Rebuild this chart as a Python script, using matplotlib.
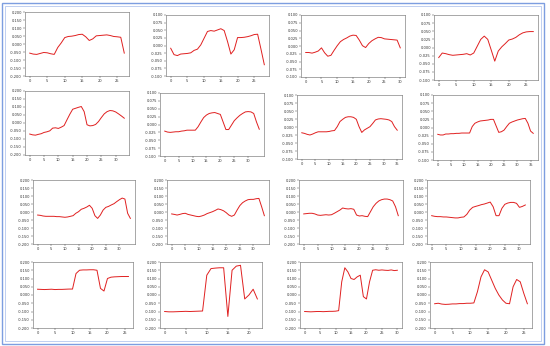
import matplotlib
matplotlib.use("Agg")
import matplotlib.pyplot as plt
from matplotlib.patches import Rectangle

# one series per small panel
s1 = [-0.057, -0.063, -0.065, -0.059, -0.053, -0.055, -0.061, -0.065, -0.022, 0.007, 0.040, 0.047, 0.049, 0.053,
      0.059, 0.061, 0.045, 0.022, 0.032, 0.051, 0.053, 0.055, 0.057, 0.053, 0.047, 0.045, 0.042, -0.057]
s2 = [-0.009, -0.030, -0.033, -0.028, -0.027, -0.026, -0.024, -0.016, -0.012, 0.002, 0.024, 0.046, 0.049, 0.047,
      0.051, 0.055, 0.049, 0.013, -0.028, -0.014, 0.026, 0.026, 0.027, 0.029, 0.032, 0.036, 0.037, -0.012, -0.063]
s3 = [-0.021, -0.021, -0.023, -0.020, -0.016, -0.006, -0.022, -0.033, -0.030, -0.014, 0.001, 0.014, 0.021, 0.026,
      0.032, 0.035, 0.034, 0.019, 0.001, -0.005, 0.008, 0.017, 0.023, 0.028, 0.027, 0.023, 0.022, 0.021, 0.020,
      0.019, -0.006]
s4 = [-0.031, -0.017, -0.019, -0.022, -0.024, -0.023, -0.022, -0.021, -0.019, -0.023, -0.017, 0.004, 0.025, 0.035,
      0.025, -0.008, -0.042, -0.011, 0.002, 0.012, 0.023, 0.026, 0.031, 0.039, 0.045, 0.048, 0.049, 0.049]
s5 = [-0.069, -0.074, -0.076, -0.071, -0.067, -0.059, -0.055, -0.049, -0.032, -0.030, -0.034, -0.026, -0.016, 0.020,
      0.055, 0.086, 0.092, 0.098, 0.103, 0.071, -0.011, -0.018, -0.016, -0.009, 0.009, 0.034, 0.057, 0.071, 0.078,
      0.076, 0.069, 0.057, 0.044, 0.030]
s6 = [-0.021, -0.024, -0.025, -0.024, -0.023, -0.023, -0.021, -0.020, -0.018, -0.018, -0.018, -0.018, -0.007, 0.008,
      0.022, 0.030, 0.035, 0.037, 0.038, 0.035, 0.032, 0.008, -0.016, -0.016, -0.002, 0.012, 0.021, 0.029, 0.035,
      0.040, 0.041, 0.040, 0.035, 0.008, -0.015]
s7 = [-0.018, -0.020, -0.023, -0.025, -0.022, -0.018, -0.015, -0.015, -0.015, -0.015, -0.014, -0.012, -0.011, 0.001,
      0.017, 0.024, 0.030, 0.032, 0.032, 0.030, 0.024, 0.001, -0.017, -0.009, -0.004, 0.001, 0.011, 0.022, 0.025,
      0.026, 0.025, 0.024, 0.022, 0.017, 0.001, -0.010]
s8 = [-0.021, -0.023, -0.023, -0.020, -0.020, -0.019, -0.019, -0.018, -0.018, -0.017, -0.017, -0.017, -0.017, 0.003,
      0.013, 0.017, 0.020, 0.021, 0.022, 0.023, 0.025, 0.025, 0.005, -0.015, -0.013, -0.008, 0.003, 0.013, 0.017,
      0.020, 0.023, 0.025, 0.027, 0.028, 0.013, -0.011, -0.018]
s9 = [-0.019, -0.021, -0.025, -0.027, -0.027, -0.027, -0.027, -0.029, -0.029, -0.031, -0.033, -0.031, -0.027, -0.023,
      -0.008, 0.002, 0.017, 0.023, 0.031, 0.042, 0.023, -0.023, -0.040, -0.019, 0.012, 0.029, 0.035, 0.044, 0.052,
      0.065, 0.077, 0.087, 0.081, -0.008, -0.040]
s10 = [-0.012, -0.015, -0.019, -0.015, -0.010, -0.008, -0.015, -0.019, -0.023, -0.027, -0.029, -0.025, -0.019, -0.010,
       -0.004, 0.002, 0.010, 0.019, 0.015, 0.008, -0.004, -0.019, -0.027, -0.019, 0.012, 0.040, 0.058, 0.069, 0.077,
       0.079, 0.079, 0.083, 0.085, 0.033, -0.023]
s11 = [-0.012, -0.010, -0.008, -0.008, -0.012, -0.019, -0.021, -0.019, -0.017, -0.019, -0.017, -0.008, 0.002, 0.012,
       0.025, 0.021, 0.019, 0.021, 0.017, -0.019, -0.025, -0.023, -0.027, -0.029, 0.002, 0.033, 0.054, 0.069, 0.077,
       0.081, 0.081, 0.077, 0.069, 0.033, -0.023]
s12 = [-0.023, -0.027, -0.029, -0.029, -0.031, -0.031, -0.033, -0.035, -0.037, -0.037, -0.033, -0.031, -0.015, 0.012,
       0.029, 0.035, 0.040, 0.046, 0.050, 0.056, 0.062, 0.033, -0.023, -0.023, 0.023, 0.048, 0.056, 0.060, 0.060,
       0.054, 0.029, 0.035, 0.044]
s13 = [0.035, 0.034, 0.033, 0.034, 0.035, 0.033, 0.034, 0.034, 0.035, 0.036, 0.036, 0.130, 0.150, 0.152,
       0.152, 0.153, 0.153, 0.150, 0.040, 0.024, 0.100, 0.108, 0.110, 0.111, 0.112, 0.112, 0.112]
s14 = [-0.100, -0.102, -0.102, -0.101, -0.100, -0.099, -0.100, -0.099, -0.098, -0.097, 0.120, 0.160, 0.163, 0.165,
       0.165, -0.130, 0.150, 0.175, 0.180, -0.024, 0.000, 0.035, -0.024]
s15 = [-0.100, -0.101, -0.102, -0.101, -0.100, -0.100, -0.101, -0.100, -0.099, -0.099, -0.098, -0.095, 0.080, 0.165,
       0.140, 0.100, 0.094, 0.110, 0.120, -0.010, -0.024, 0.080, 0.150, 0.153, 0.150, 0.152, 0.150, 0.149, 0.152,
       0.148, 0.150]
s16 = [-0.053, -0.050, -0.055, -0.057, -0.056, -0.054, -0.054, -0.052, -0.052, -0.050, -0.050, -0.048, 0.020, 0.110,
       0.153, 0.140, 0.090, 0.040, 0.000, -0.030, -0.050, -0.053, 0.050, 0.094, 0.080, 0.010, -0.053]

series = [s1, s2, s3, s4, s5, s6, s7, s8, s9, s10, s11, s12, s13, s14, s15, s16]
ylims = [0.2, 0.1, 0.1, 0.1, 0.2, 0.1, 0.1, 0.1, 0.2, 0.2, 0.2, 0.2, 0.2, 0.2, 0.2, 0.2]

# panel boxes in pixels: left, top, right, bottom
boxes = [
    (25, 12, 129, 76), (166, 15, 269, 76), (301, 15, 405, 77), (434, 15, 538, 80),
    (25, 91, 129, 155), (160, 93, 264, 156), (297, 95, 402, 159), (433, 95, 538, 160),
    (33, 180, 135, 244), (167, 180, 269, 244), (299, 180, 403, 244), (427, 180, 530, 244),
    (33, 262, 133, 328), (160, 262, 262, 328), (300, 262, 402, 328), (430, 262, 532, 328),
]

W, H = 550, 346
fig = plt.figure(figsize=(W / 100, H / 100), dpi=100)

for s, lim, (l, t, r, b) in zip(series, ylims, boxes):
    ax = fig.add_axes([l / W, 1 - b / H, (r - l) / W, (b - t) / H])
    ax.plot(range(len(s)), s, color="#e02020", lw=0.7)
    ax.set_ylim(-lim, lim)
    ax.set_yticks([lim * k / 4 for k in range(-4, 5)])
    ax.set_yticklabels([f"{lim * k / 4:.3f}" for k in range(-4, 5)])
    ax.set_xticks(range(0, len(s), 5))
    ax.tick_params(labelsize=2.6, length=1.2, width=0.3, pad=1, colors="#333333")
    for sp in ax.spines.values():
        sp.set_linewidth(0.4)
        sp.set_color("#666666")

# light blue frame around the whole picture
fig.patches.append(Rectangle((2 / W, 2 / H), 542 / W, 341 / H, transform=fig.transFigure,
                             fill=False, ec="#7d9ee0", lw=1.0))
fig.patches.append(Rectangle((5 / W, 5 / H), 536 / W, 335 / H, transform=fig.transFigure,
                             fill=False, ec="#b5c8ef", lw=0.6))

fig.savefig("out.png", dpi=100)
